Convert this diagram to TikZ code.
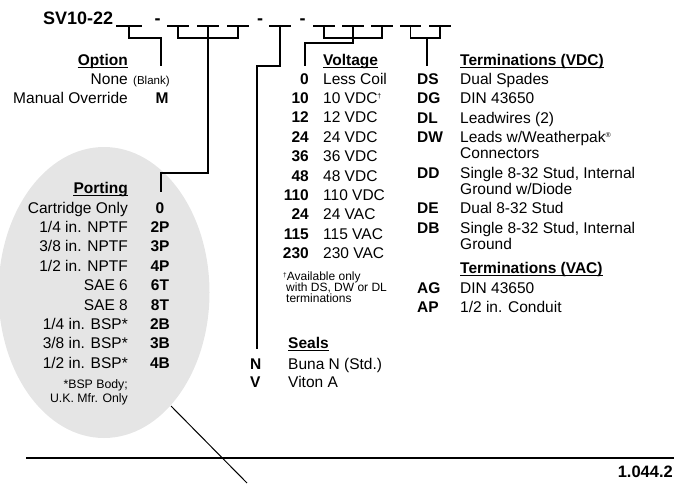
\documentclass[tikz,border=0pt]{standalone}
\usepackage{fontspec}
\setmainfont{Liberation Sans}
\usetikzlibrary{calc}
\begin{document}
\begin{tikzpicture}[x=1pt,y=-1pt,
  lab/.style={inner sep=0pt, font=\fontsize{15.5}{18}\selectfont},
  code/.style={inner sep=0pt, font=\fontsize{15.5}{18}\selectfont\bfseries},
  hdr/.style={inner sep=0pt, font=\fontsize{15.5}{18}\selectfont\bfseries},
  note/.style={inner sep=0pt, font=\fontsize{11.5}{12}\selectfont},
  pnote/.style={inner sep=0pt, font=\fontsize{12.3}{13}\selectfont},
  fnote/.style={inner sep=0pt, font=\fontsize{12}{12}\selectfont},
  big/.style={inner sep=0pt, font=\fontsize{18}{20}\selectfont\bfseries},
  wire/.style={line width=1.1pt, line cap=rect},
  blank/.style={line width=1.1pt},
  uline/.style={line width=1.3pt}]
\path[use as bounding box] (0,0) rectangle (674,483);
% grey ellipse behind the porting table
\fill[black!10] (104,292.5) ellipse [x radius=105.5, y radius=145.5];

% ---------- model code line ----------
\node[big, anchor=base west] (title) at (43,24.5) {SV10-22};
\node[big, anchor=base] (d1) at (157.5,24.5) {-};
\node[big, anchor=base] (d2) at (260,24.5) {-};
\node[big, anchor=base] (d3) at (302.5,24.5) {-};
% blanks
\foreach \n/\a/\b in {bo/116/142, bp1/167/189, bp2/197/219, bp3/227/249,
                      bs/269/291, bv1/313/335, bv2/342/364, bv3/371/393,
                      bt1/400/421, bt2/429/451}{
  \coordinate (\n w) at (\a,26);
  \coordinate (\n e) at (\b,26);
  \coordinate (\n) at ($(\n w)!0.5!(\n e)$);
  \draw[blank] (\n w) -- (\n e);
}

% ---------- Option ----------
\node[hdr, anchor=base east] (hopt) at (128,65) {Option};
\draw[uline] ([yshift=-2.5pt]hopt.base west) -- ([yshift=-2.5pt]hopt.base east);
\node[lab, anchor=base east] (none) at (128,84) {None};
\node[note, anchor=base west] (blk) at (133,84) {(Blank)};
\node[lab, anchor=base east] (man) at (128,103.5) {Manual Override};
\node[code, anchor=base] (mcode) at (162,103.5) {M};
\coordinate (optend) at (161,65);
\draw[wire] (bo) -- ++(0,12) -| (optend);

% ---------- Porting ----------
\node[hdr, anchor=base east] (hport) at (128,193) {Porting};
\draw[uline] ([yshift=-2.5pt]hport.base west) -- ([yshift=-2.5pt]hport.base east);
\foreach \t/\c [count=\i from 0] in {{Cartridge Only}/0, {1/4 in. NPTF}/2P, {3/8 in. NPTF}/3P,
   {1/2 in. NPTF}/4P, {SAE 6}/6T, {SAE 8}/8T, {1/4 in. BSP*}/2B, {3/8 in. BSP*}/3B, {1/2 in. BSP*}/4B}{
  \node[lab, anchor=base east] (pl\i) at (128,213+19.4*\i) {\t};
  \node[code, anchor=base] (pc\i) at (160,213+19.4*\i) {\c};
}
\node[pnote, anchor=base east] (bsp1) at (128,388) {*BSP Body;};
\node[pnote, anchor=base east] (bsp2) at (128,402) {U.K. Mfr. Only};
\coordinate (portend) at (161,191);
\coordinate (portknee) at (208,173);
\draw[wire] (bp1) -- ++(0,12) -| (bp3);
\draw[wire] (bp2) -- (portknee) -| (portend);

% ---------- Seals ----------
\node[hdr, anchor=base west] (hseal) at (288,348) {Seals};
\draw[uline] ([yshift=-2.5pt]hseal.base west) -- ([yshift=-2.5pt]hseal.base east);
\node[code, anchor=base west] (sn) at (250,369) {N};
\node[lab, anchor=base west] (snt) at (288,369) {Buna N (Std.)};
\node[code, anchor=base west] (sv) at (250,387) {V};
\node[lab, anchor=base west] (svt) at (288,387) {Viton A};
\coordinate (sealknee) at (280,66);
\coordinate (sealend) at (257,348);
\draw[wire] (bs) -- (sealknee) -| (sealend);

% ---------- Voltage ----------
\node[hdr, anchor=base west] (hvolt) at (323,65) {Voltage};
\draw[uline] ([yshift=-2.5pt]hvolt.base west) -- ([yshift=-2.5pt]hvolt.base east);
\foreach \c/\t [count=\i from 0] in {0/{Less Coil}, 10/{10 VDC\raisebox{5pt}{\fontsize{7}{7}\selectfont †}}, 12/{12 VDC}, 24/{24 VDC},
   36/{36 VDC}, 48/{48 VDC}, 110/{110 VDC}, 24/{24 VAC}, 115/{115 VAC}, 230/{230 VAC}}{
  \node[code, anchor=base east] (vc\i) at (309,84+19.4*\i) {\c};
  \node[lab, anchor=base west] (vl\i) at (323,84+19.4*\i) {\t};
}
\node[fnote, anchor=base west] (vf1) at (283,280.5) {\raisebox{3.5pt}{\fontsize{6.5}{7}\selectfont †}Available only};
\node[fnote, anchor=base west] (vf2) at (286,291.5) {with DS, DW or DL};
\node[fnote, anchor=base west] (vf3) at (286,302) {terminations};
\coordinate (voltknee) at (353,43);
\coordinate (voltend) at (305,65);
\draw[wire] (bv1) -- ++(0,12) -| (bv3);
\draw[wire] (bv2) -- (voltknee) -| (voltend);

% ---------- Terminations ----------
\node[hdr, anchor=base west] (hvdc) at (460,65) {Terminations (VDC)};
\draw[uline] ([yshift=-2.5pt]hvdc.base west) -- ([yshift=-2.5pt]hvdc.base east);
\foreach \c/\y in {DS/84, DG/103.5, DL/123, DW/142, DD/178, DE/213, DB/233, AG/293, AP/312}{
  \node[code, anchor=base west] (tc\c) at (417,\y) {\c};
}
\foreach \t/\y [count=\i] in {{Dual Spades}/84, {DIN 43650}/103.5, {Leadwires (2)}/123,
   {Leads w/Weatherpak\raisebox{5pt}{\fontsize{7}{7}\selectfont ®}}/142, {Connectors}/158,
   {Single 8-32 Stud, Internal}/178, {Ground w/Diode}/194, {Dual 8-32 Stud}/213,
   {Single 8-32 Stud, Internal}/233, {Ground}/249, {DIN 43650}/293, {1/2 in. Conduit}/312}{
  \node[lab, anchor=base west] (tl\i) at (460,\y) {\t};
}
\node[hdr, anchor=base west] (hvac) at (460,273) {Terminations (VAC)};
\draw[uline] ([yshift=-2.5pt]hvac.base west) -- ([yshift=-2.5pt]hvac.base east);
\coordinate (termmid) at (427,38);
\coordinate (termend) at (427,65);
\draw[wire] (bt1) -- ++(0,12) -| (bt2);
\draw[wire] (termmid) -- (termend);

% ---------- footer ----------
\coordinate (rulel) at (26,458);
\coordinate (ruler) at (674,458);
\draw[line width=1.1pt] (rulel) -- (ruler);
\node[inner sep=0pt, font=\fontsize{16.5}{18}\selectfont\bfseries, anchor=base east] (page) at (673,477) {1.044.2};
\coordinate (leadA) at (171,406);
\coordinate (leadB) at (247,483);
\draw[line width=1pt] (leadA) -- (leadB);
\end{tikzpicture}
\end{document}
